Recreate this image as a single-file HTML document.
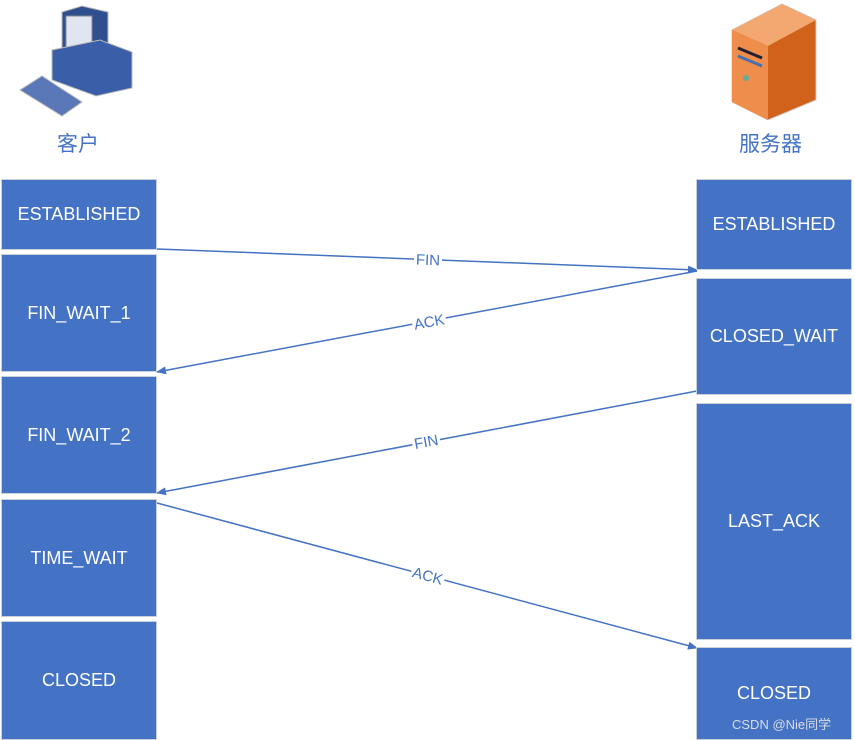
<!DOCTYPE html>
<html><head><meta charset="utf-8"><style>
body{margin:0;width:855px;height:740px;background:#fff;position:relative;overflow:hidden;font-family:"Liberation Sans","Noto Sans CJK SC",sans-serif}
.b{position:absolute;background:#4472C4;border:1px solid #c9d0da;box-sizing:border-box;color:#fff;font-size:18px;display:flex;align-items:center;justify-content:center}
.t{position:absolute;color:#4472C4;font-size:21px}
</style></head><body>
<svg width="855" height="740" style="position:absolute;left:0;top:0">
<defs><marker id="a" markerWidth="10" markerHeight="8" refX="9" refY="4" orient="auto" markerUnits="userSpaceOnUse"><path d="M0,0 L10,4 L0,8 z" fill="#4472C4"/></marker></defs>
<g>
<polygon points="62,12 82,6 108,12 108,52 88,58 62,52" fill="#2f4f8f" stroke="#bbb"/>
<rect x="66" y="16" width="26" height="32" fill="#dfe6f2" stroke="#888"/>
<polygon points="52,50 100,40 132,52 132,88 96,96 52,80" fill="#3a5ea8" stroke="#bbb"/>
<polygon points="20,90 42,76 82,102 62,116" fill="#5a78b8" stroke="#bbb"/>
</g>
<g>
<polygon points="732,30 782,4 816,20 816,100 768,120 732,102" fill="#d0621c" stroke="#ccc"/>
<polygon points="732,30 768,46 768,120 732,102" fill="#ef8d4a"/>
<polygon points="732,30 782,4 816,20 768,46" fill="#f2a870"/>
<line x1="738" y1="48" x2="762" y2="58" stroke="#223" stroke-width="3"/>
<line x1="738" y1="56" x2="762" y2="66" stroke="#4a6fb0" stroke-width="3"/>
<circle cx="746" cy="78" r="3" fill="#6a9"/>
</g>
<line x1="157" y1="249" x2="697" y2="270" stroke="#4472C4" stroke-width="1.5" marker-end="url(#a)"/>
<line x1="697" y1="271" x2="157" y2="372" stroke="#4472C4" stroke-width="1.5" marker-end="url(#a)"/>
<line x1="697" y1="391" x2="157" y2="493" stroke="#4472C4" stroke-width="1.5" marker-end="url(#a)"/>
<line x1="157" y1="503" x2="697" y2="648" stroke="#4472C4" stroke-width="1.5" marker-end="url(#a)"/>
<g font-family="Liberation Sans,sans-serif" font-size="15" fill="#4472C4" text-anchor="middle">
<rect x="414" y="252" width="28" height="14" fill="#fff"/><text x="428" y="265" transform="rotate(2.2 428 260)">FIN</text>
<rect x="412" y="314" width="34" height="14" fill="#fff" transform="rotate(-10.6 429 321)"/><text x="429" y="327" transform="rotate(-10.6 429 321)">ACK</text>
<rect x="412" y="434" width="28" height="14" fill="#fff" transform="rotate(-10.7 426 441)"/><text x="426" y="447" transform="rotate(-10.7 426 441)">FIN</text>
<rect x="411" y="568" width="34" height="14" fill="#fff" transform="rotate(15 428 575)"/><text x="428" y="581" transform="rotate(15 428 575)">ACK</text>
</g>
</svg>
<div class="t" style="left:57px;top:128px">客户</div>
<div class="t" style="left:739px;top:128px">服务器</div>
<div class="b" style="left:1px;top:179px;width:156px;height:71px">ESTABLISHED</div>
<div class="b" style="left:1px;top:254px;width:156px;height:118px">FIN_WAIT_1</div>
<div class="b" style="left:1px;top:376px;width:156px;height:118px">FIN_WAIT_2</div>
<div class="b" style="left:1px;top:499px;width:156px;height:118px">TIME_WAIT</div>
<div class="b" style="left:1px;top:621px;width:156px;height:119px">CLOSED</div>
<div class="b" style="left:696px;top:179px;width:156px;height:91px">ESTABLISHED</div>
<div class="b" style="left:696px;top:278px;width:156px;height:117px">CLOSED_WAIT</div>
<div class="b" style="left:696px;top:403px;width:156px;height:237px">LAST_ACK</div>
<div class="b" style="left:696px;top:647px;width:156px;height:93px">CLOSED</div>
<div style="position:absolute;left:732px;top:714px;font-size:13px;color:#d8dde8">CSDN @Nie同学</div>
</body></html>
